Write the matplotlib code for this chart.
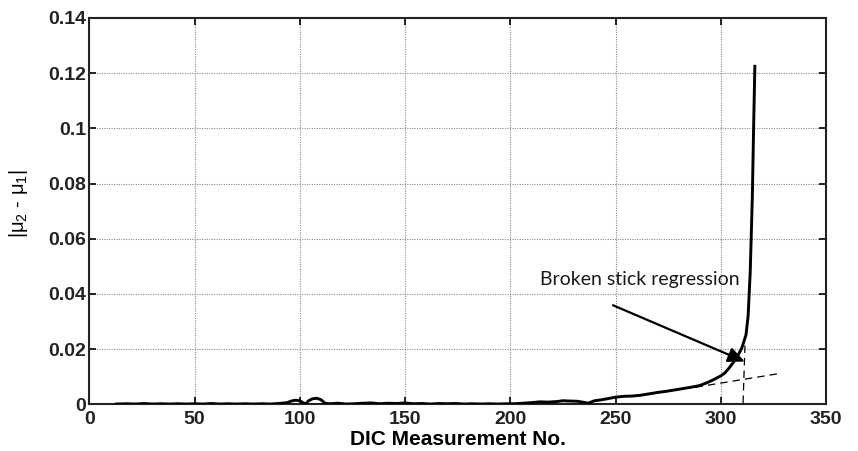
import matplotlib
matplotlib.use("Agg")
import matplotlib.pyplot as plt

# Measurement index and |mu2 - mu1| values
meas_no = [13, 18, 22, 26, 30, 34, 38, 42, 46, 50, 54, 58, 62, 66, 70, 74, 78, 82, 86, 90,
           94, 96, 98, 100, 102, 103, 104, 106, 108, 110, 112, 114, 118, 122, 126, 130, 134,
           138, 142, 146, 150, 154, 158, 162, 166, 170, 174, 178, 182, 186, 190, 194, 198,
           202, 206, 210, 214, 218, 222, 225, 228, 232, 235, 237, 240, 243, 246, 250, 254,
           258, 262, 266, 270, 274, 278, 282, 286, 290, 294, 297, 300, 302, 304, 306, 308,
           310, 312, 313, 314, 315, 315.6, 316.2]
mu_diff = [0.0001, 0.0002, 0.0001, 0.0003, 0.0001, 0.0002, 0.0001, 0.0002, 0.0001, 0.0002,
           0.0001, 0.0003, 0.0001, 0.0002, 0.0001, 0.0002, 0.0001, 0.0002, 0.0001, 0.0003,
           0.0006, 0.0012, 0.0015, 0.0013, 0.0004, 0.0002, 0.0012, 0.0020, 0.0022, 0.0017,
           0.0004, 0.0002, 0.0004, 0.0001, 0.0002, 0.0004, 0.0005, 0.0002, 0.0004, 0.0003,
           0.0005, 0.0002, 0.0003, 0.0001, 0.0003, 0.0002, 0.0003, 0.0001, 0.0002, 0.0001,
           0.0002, 0.0001, 0.0002, 0.0002, 0.0004, 0.0006, 0.0009, 0.0008, 0.0010, 0.0013,
           0.0012, 0.0011, 0.0007, 0.0004, 0.0013, 0.0016, 0.0020, 0.0026, 0.0029, 0.0030,
           0.0033, 0.0038, 0.0043, 0.0047, 0.0052, 0.0057, 0.0062, 0.0068, 0.0080, 0.0091,
           0.0103, 0.0114, 0.0132, 0.0152, 0.0175, 0.0204, 0.0252, 0.0320, 0.0480, 0.0750,
           0.1000, 0.1225]

# Broken stick regression: two line segments
stick1_x = [288, 329]
stick1_y = [0.0062, 0.0113]
stick2_x = [310.6, 311.5]
stick2_y = [0.0005, 0.0213]

x_ticks = [0, 50, 100, 150, 200, 250, 300, 350]
y_ticks = [0, 0.02, 0.04, 0.06, 0.08, 0.1, 0.12, 0.14]
y_tick_labels = ["0", "0.02", "0.04", "0.06", "0.08", "0.1", "0.12", "0.14"]

annot_text = "Broken stick regression"
annot_xy = (311.4, 0.0155)
annot_text_xy = (248.8, 0.0359)

plt.rcParams["mathtext.fontset"] = "custom"
plt.rcParams["mathtext.rm"] = "Liberation Sans"
plt.rcParams["mathtext.it"] = "Liberation Sans"

fig = plt.figure(figsize=(8.58, 4.51), dpi=100)
ax = fig.add_axes([0.1041, 0.1035, 0.8586, 0.8566])

ax.plot(stick1_x, stick1_y, color="black", lw=0.9, ls=(0, (6, 4)), zorder=2)
ax.plot(stick2_x, stick2_y, color="black", lw=0.9, ls=(0, (6, 4)), zorder=2)
ax.plot(meas_no, mu_diff, color="black", lw=2.1, solid_joinstyle="round", zorder=3)

ax.annotate("", xy=annot_xy, xytext=annot_text_xy,
            arrowprops=dict(arrowstyle="-|>,head_length=1.0,head_width=0.45",
                            color="black", lw=1.6, shrinkA=0, shrinkB=0), zorder=4)
ax.text(261.5, 0.0452, annot_text, ha="center", va="center",
        fontsize=14, family="Lato", color="#1a1a1a")

ax.set_xlim(0, 350)
ax.set_ylim(0, 0.14)
ax.set_xticks(x_ticks)
ax.set_yticks(y_ticks)
ax.set_yticklabels(y_tick_labels)
ax.set_xticklabels([str(t) for t in x_ticks])

for lbl in ax.get_xticklabels() + ax.get_yticklabels():
    lbl.set_fontfamily("Liberation Sans")
    lbl.set_fontweight("bold")
    lbl.set_fontsize(14)

ax.tick_params(direction="in", length=5, width=1.4, top=True, right=True,
               colors="#222222")
ax.tick_params(axis="x", pad=5)
ax.tick_params(axis="y", pad=2.2)
for sp in ax.spines.values():
    sp.set_linewidth(1.5)
    sp.set_color("#222222")

ax.grid(True, color="#8a8a8a", ls=(0, (1, 1.2)), lw=0.8)
ax.set_axisbelow(True)

ax.set_xlabel("DIC Measurement No.", fontfamily="Liberation Sans", fontweight="bold",
              fontsize=15)
ax.xaxis.set_label_coords(0.5, -0.066)
ax.set_ylabel(r"|$\mu_2$ - $\mu_1$|", fontfamily="Liberation Sans", fontsize=14.5)
ax.yaxis.set_label_coords(-0.08, 0.518)

fig.savefig("out.png", dpi=100)
